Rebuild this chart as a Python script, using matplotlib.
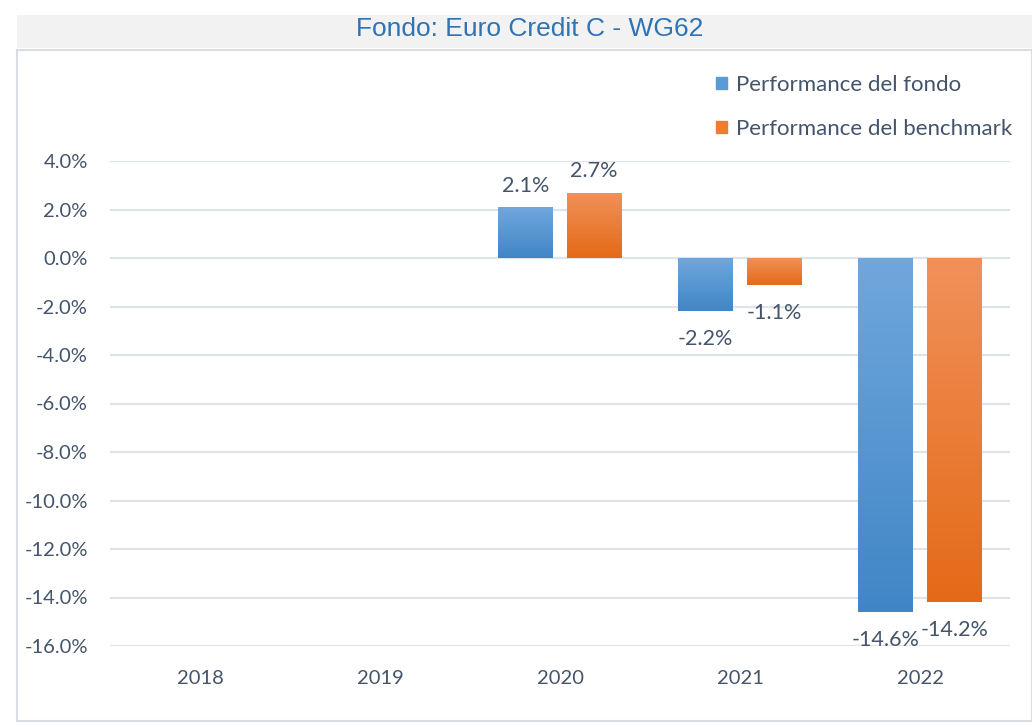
import numpy as np
import matplotlib.pyplot as plt
from matplotlib.patches import Rectangle
from matplotlib.colors import LinearSegmentedColormap
from matplotlib.ticker import FuncFormatter

# datos del gráfico
anni = ["2018", "2019", "2020", "2021", "2022"]
perf_fondo = [np.nan, np.nan, 2.1, -2.2, -14.6]
perf_bench = [np.nan, np.nan, 2.7, -1.1, -14.2]
etichette = ["Performance del fondo", "Performance del benchmark"]
titolo = "Fondo: Euro Credit C - WG62"

col_testo = "#44546a"
col_griglia = "#dfe4ea"
grad_blu = ["#70a7dd", "#4086c6"]
grad_arancio = ["#f1915a", "#e46a17"]

plt.rcParams["font.family"] = ["Lato", "DejaVu Sans"]

fig = plt.figure(figsize=(10.32, 7.23), dpi=100)

# cornice e banda del titolo (sotto gli assi)
fig.patches.append(Rectangle((17 / 1032, 2 / 723), 1015 / 1032, 671 / 723,
                             transform=fig.transFigure, facecolor="white",
                             edgecolor="#d9dde3", linewidth=1.5, zorder=-2))
fig.patches.append(Rectangle((17 / 1032, 675 / 723), 1015 / 1032, 33 / 723,
                             transform=fig.transFigure, facecolor="#f2f2f2",
                             edgecolor="none", zorder=-2))
fig.text(530 / 1032, 694 / 723, titolo, ha="center", va="center",
         fontsize=19, color="#2e74b5",
         family=["Liberation Sans Narrow", "Liberation Sans", "DejaVu Sans"])

ax = fig.add_axes([110 / 1032, 77 / 723, 900 / 1032, 485 / 723])
ax.set_facecolor("none")

x = np.arange(len(anni))
w = 0.305
off = 0.19

b1 = ax.bar(x - off, perf_fondo, w, color=grad_blu[0], label=etichette[0], zorder=2)
b2 = ax.bar(x + off, perf_bench, w, color=grad_arancio[0], label=etichette[1], zorder=2)


def riempi_gradiente(barre, colori):
    cmap = LinearSegmentedColormap.from_list("g", colori)
    grad = np.linspace(0, 1, 256).reshape(-1, 1)
    for p in barre:
        if np.isnan(p.get_height()):
            continue
        x0, y0 = p.get_x(), p.get_y()
        x1, y1 = x0 + p.get_width(), y0 + p.get_height()
        lo, hi = min(y0, y1), max(y0, y1)
        im = ax.imshow(grad, cmap=cmap, aspect="auto", origin="upper",
                       extent=[x0, x1, lo, hi], zorder=3)
        im.set_clip_path(p)


riempi_gradiente(b1, grad_blu)
riempi_gradiente(b2, grad_arancio)

# etichette dei valori
for barre, valori in [(b1, perf_fondo), (b2, perf_bench)]:
    for p, v in zip(barre, valori):
        if np.isnan(v):
            continue
        cx = p.get_x() + p.get_width() / 2
        if v >= 0:
            ax.annotate(f"{v:.1f}%", (cx, v), xytext=(0, 8), textcoords="offset points",
                        ha="center", va="bottom", fontsize=15.5, color=col_testo)
        else:
            ax.annotate(f"{v:.1f}%", (cx, v), xytext=(0, -13), textcoords="offset points",
                        ha="center", va="top", fontsize=15.5, color=col_testo)

ax.set_xlim(-0.5, len(anni) - 0.5)
ax.set_ylim(-16, 4)
ax.set_yticks(np.arange(-16, 4.1, 2))
ax.yaxis.set_major_formatter(FuncFormatter(lambda v, _: f"{v:.1f}%"))
ax.set_xticks(x)
ax.set_xticklabels(anni)
ax.tick_params(axis="y", length=0, pad=16, labelsize=14.5, labelcolor=col_testo)
ax.tick_params(axis="x", length=0, pad=17, labelsize=14.5, labelcolor=col_testo)
ax.grid(axis="y", color=col_griglia, linewidth=1.6, zorder=0)
ax.set_axisbelow(True)
for s in ax.spines.values():
    s.set_visible(False)

leg = ax.legend(loc="upper left", bbox_to_anchor=(696 / 1032, 668 / 723),
                bbox_transform=fig.transFigure, frameon=False, fontsize=16,
                handlelength=0.5, handleheight=0.5, handletextpad=0.4,
                labelspacing=1.08, labelcolor=col_testo)
leg.legend_handles[0].set_color("#5b9bd5")
leg.legend_handles[1].set_color("#ed7d31")

fig.savefig("out.png", dpi=100)
